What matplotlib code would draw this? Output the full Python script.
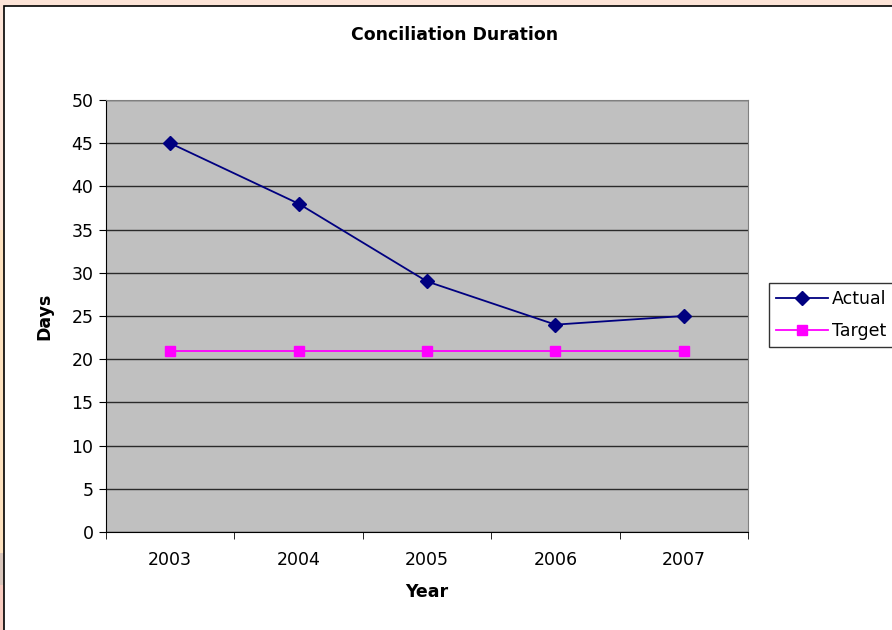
import matplotlib.pyplot as plt
from matplotlib.patches import Rectangle

years = ['2003', '2004', '2005', '2006', '2007']
actual = [45, 38, 29, 24, 25]
target = [21, 21, 21, 21, 21]

W, H = 892, 630
plt.rcParams['font.family'] = ['DejaVu Sans']

fig = plt.figure(figsize=(W / 100, H / 100), dpi=100)
fig.patch.set_facecolor('#FDE4D7')

# tinted bits of the page showing down the left edge
for y0, y1, col in [(230, 553, '#FDE1BE'), (553, 585, '#D9C6BC'), (585, 630, '#F8CBC0')]:
    fig.patches.append(Rectangle((0, 1 - y1 / H), 4 / W, (y1 - y0) / H,
                                 transform=fig.transFigure, facecolor=col,
                                 edgecolor='none', zorder=-6))

# white chart panel with a thin black border
fig.patches.append(Rectangle((4 / W, -0.1), 1.1, (H - 6) / H + 0.1,
                             transform=fig.transFigure, facecolor='white',
                             edgecolor='black', linewidth=1.2, zorder=-5))

ax = fig.add_axes([106 / W, (H - 532) / H, 642 / W, 432 / H])
ax.set_facecolor('#C0C0C0')

x = range(len(years))
ax.plot(x, actual, color='#000080', marker='D', markersize=7.5, linewidth=1.3,
        label='Actual', zorder=3)
ax.plot(x, target, color='#FF00FF', marker='s', markersize=7.5, linewidth=1.3,
        label='Target', zorder=3)

ax.set_xlim(-0.5, len(years) - 0.5)
ax.set_ylim(0, 50)
ax.set_yticks(range(0, 51, 5))
ax.set_xticks(x)
ax.set_xticklabels(years)
ax.set_xticks([i - 0.5 for i in range(len(years) + 1)], minor=True)
ax.tick_params(axis='x', which='major', length=0, pad=14, labelsize=12.5)
ax.tick_params(axis='x', which='minor', length=5, direction='out', color='black')
ax.tick_params(axis='y', length=5, direction='out', pad=4, labelsize=12.5, color='black')

ax.grid(axis='y', color='#2a2a2a', linewidth=1)
ax.set_axisbelow(True)
for side in ['top', 'right']:
    ax.spines[side].set_color('#808080')
for side in ['left', 'bottom']:
    ax.spines[side].set_color('black')

ax.set_xlabel('Year', fontsize=12.5, fontweight='bold', labelpad=10)
ax.set_ylabel('Days', fontsize=12.5, fontweight='bold', labelpad=13)
fig.text(455 / W, 1 - 35 / H, 'Conciliation Duration', fontsize=12.5,
         fontweight='bold', ha='center', va='center')

leg = ax.legend(loc='upper left', bbox_to_anchor=(769 / W, 1 - 283 / H),
                bbox_transform=fig.transFigure, fontsize=12.5, frameon=True,
                fancybox=False, borderaxespad=0, handlelength=3.0,
                borderpad=0.4, labelspacing=0.8, handletextpad=0.2)
leg.get_frame().set_edgecolor('black')
leg.get_frame().set_linewidth(1)

plt.savefig('out.png', dpi=100, facecolor=fig.get_facecolor())
